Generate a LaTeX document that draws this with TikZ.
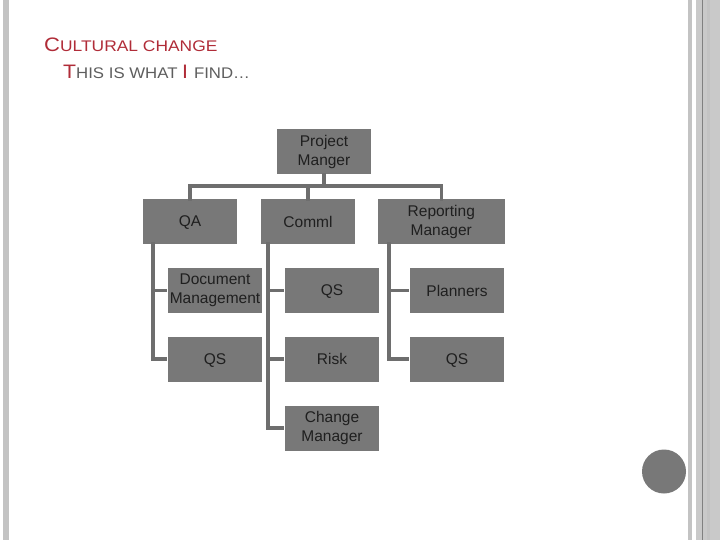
\documentclass[tikz,border=0pt]{standalone}
\usepackage{fontspec}
\setmainfont{Liberation Sans}
\usepackage{tikz}
\usetikzlibrary{positioning}
\usepackage{xcolor}
\definecolor{boxgray}{HTML}{787878}
\definecolor{linkgray}{HTML}{6E6E6E}
\definecolor{titlered}{HTML}{B02C38}
\definecolor{subgray}{HTML}{5E5E5E}
\definecolor{stripe}{HTML}{C3C3C3}
\newcommand{\capsz}{\fontsize{19.5}{22}\selectfont}
\newcommand{\smsz}{\fontsize{15.4}{18}\selectfont}

\begin{document}
\begin{tikzpicture}[x=1pt,y=-1pt,line cap=rect,
  orgbox/.style={fill=boxgray,minimum width=94pt,minimum height=45pt,inner sep=0pt,
    align=center,text=black!88,font=\fontsize{15.5}{19}\selectfont},
  oneline/.style={orgbox,text depth=0pt},
  link/.style={draw=linkgray,line width=3.5pt},
  stub/.style={link,shorten >=3pt}]
\useasboundingbox (0,0) rectangle (720,540);
\fill[white] (0,0) rectangle (720,540);
\fill[stripe] (3,0) rectangle (9,540);
\fill[stripe] (688,0) rectangle (692,540);
\fill[stripe!90!white] (696,0) rectangle (720,540);
\fill[stripe] (707,0) rectangle (710,540);
\draw[gray,line width=1.2pt] (702.5,0) -- (702.5,540);
\fill[boxgray] (664,471.5) circle (22);
\node[anchor=base west,xscale=1.13,inner sep=0pt,text=titlered] (title) at (44,52)
  {\capsz C\smsz ULTURAL CHANGE};
\node[anchor=base west,xscale=1.09,inner sep=0pt,text=subgray] (subtitle) at (63,79)
  {\capsz\textcolor{titlered}{T}\smsz HIS IS WHAT \capsz\textcolor{titlered}{I} \smsz FIND\dots};
\node[orgbox] (pm) at (324,152) {Project\\Manger};
\node[oneline] (qa) at (190,221.5) {QA};
\node[oneline] (comml) at (308,221.5) {Comml};
\node[orgbox,minimum width=127pt] (rep) at (441.3,221.5) {Reporting\\Manager};
\node[orgbox] (doc) at (215,290.5) {Document\\Management};
\node[oneline] (qsa) at (215,359) {QS};
\node[oneline] (qsb) at (332,290.5) {QS};
\node[oneline] (risk) at (332,359) {Risk};
\node[orgbox] (chg) at (332,428) {Change\\Manager};
\node[oneline] (plan) at (457,290.5) {Planners};
\node[oneline] (qsc) at (457,359) {QS};
\draw[link] (pm.south) -- ++(0,11.5) coordinate (bar);
\draw[link] (qa.north) |- (bar) -| (rep.north);
\draw[link] (comml.north) -- (comml.north |- bar);
\draw[stub] ([xshift=10pt]qa.south west) |- (doc.west);
\draw[stub] ([xshift=10pt]qa.south west) |- (qsa.west);
\draw[stub] ([xshift=7.3pt]comml.south west) |- (qsb.west);
\draw[stub] ([xshift=7.3pt]comml.south west) |- (risk.west);
\draw[stub] ([xshift=7.3pt]comml.south west) |- (chg.west);
\draw[stub] ([xshift=11.6pt]rep.south west) |- (plan.west);
\draw[stub] ([xshift=11.6pt]rep.south west) |- (qsc.west);
\end{tikzpicture}
\end{document}
